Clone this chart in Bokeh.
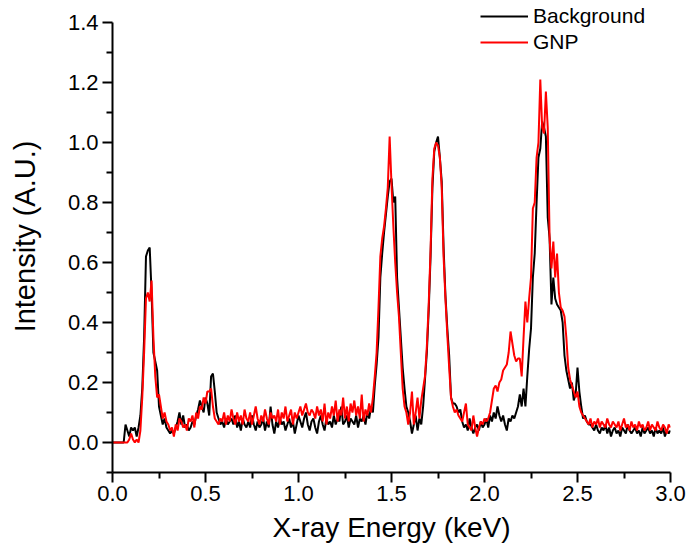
from bokeh.plotting import figure
from bokeh.models import (Range1d, FixedTicker, PrintfTickFormatter, Legend, LegendItem)
from bokeh.embed import file_html
from bokeh.resources import INLINE

# X-ray energy (keV), 0.00 .. 3.00 in 0.01 steps
energy = [round(i * 0.01, 2) for i in range(301)]

background = [
    0, 0, 0, 0, 0, 0, 0, 0.06, 0.04, 0.02,
    0.05, 0.04, 0.05, 0.02, 0.05, 0.09, 0.18, 0.35, 0.62, 0.64,
    0.65, 0.50, 0.30, 0.27, 0.24, 0.12, 0.09, 0.06, 0.08, 0.05,
    0.04, 0.03, 0.04, 0.03, 0.05, 0.07, 0.10, 0.06, 0.09, 0.05,
    0.06, 0.04, 0.05, 0.07, 0.06, 0.09, 0.11, 0.14, 0.12, 0.10,
    0.15, 0.13, 0.09, 0.22, 0.23, 0.17, 0.10, 0.08, 0.06, 0.07,
    0.05, 0.08, 0.06, 0.07, 0.08, 0.06, 0.09, 0.05, 0.07, 0.04,
    0.08, 0.06, 0.05, 0.07, 0.05, 0.09, 0.06, 0.04, 0.07, 0.05,
    0.06, 0.08, 0.04, 0.07, 0.05, 0.12, 0.06, 0.03, 0.07, 0.05,
    0.08, 0.06, 0.07, 0.04, 0.06, 0.08, 0.05, 0.07, 0.03, 0.06,
    0.09, 0.07, 0.05, 0.08, 0.10, 0.06, 0.04, 0.07, 0.08, 0.05,
    0.03, 0.07, 0.09, 0.06, 0.04, 0.08, 0.06, 0.07, 0.05, 0.09,
    0.06, 0.08, 0.07, 0.12, 0.06, 0.07, 0.09, 0.05, 0.08, 0.07,
    0.06, 0.09, 0.05, 0.08, 0.07, 0.09, 0.06, 0.10, 0.08, 0.12,
    0.10, 0.19, 0.26, 0.35, 0.55, 0.63, 0.70, 0.76, 0.82, 0.87,
    0.88, 0.80, 0.82, 0.55, 0.45, 0.35, 0.25, 0.18, 0.12, 0.10,
    0.07, 0.03, 0.06, 0.09, 0.04, 0.08, 0.06, 0.12, 0.21, 0.30,
    0.44, 0.62, 0.85, 0.97, 1.00, 1.02, 0.95, 0.87, 0.65, 0.49,
    0.38, 0.29, 0.15, 0.13, 0.13, 0.12, 0.10, 0.11, 0.07, 0.05,
    0.06, 0.04, 0.08, 0.05, 0.03, 0.05, 0.06, 0.04, 0.07, 0.05,
    0.06, 0.08, 0.05, 0.09, 0.07, 0.10, 0.08, 0.12, 0.09, 0.07,
    0.09, 0.06, 0.04, 0.08, 0.07, 0.09, 0.08, 0.10, 0.12, 0.16,
    0.12, 0.18, 0.12, 0.22, 0.31, 0.38, 0.55, 0.63, 0.80, 0.95,
    0.98, 1.07, 1.05, 1.02, 0.75, 0.68, 0.46, 0.55, 0.48, 0.46,
    0.45, 0.44, 0.40, 0.29, 0.24, 0.21, 0.18, 0.20, 0.14, 0.16,
    0.25, 0.17, 0.12, 0.08, 0.09, 0.07, 0.06, 0.06, 0.05, 0.04,
    0.06, 0.04, 0.03, 0.05, 0.04, 0.06, 0.03, 0.05, 0.02, 0.04,
    0.05, 0.03, 0.04, 0.02, 0.05, 0.04, 0.03, 0.06, 0.04, 0.03,
    0.04, 0.05, 0.03, 0.04, 0.02, 0.05, 0.03, 0.04, 0.05, 0.03,
    0.04, 0.02, 0.05, 0.03, 0.04, 0.03, 0.05, 0.02, 0.04, 0.03,
    0.04,
]

gnp = [
    0, 0, 0, 0, 0, 0, 0, 0, 0, 0.01,
    0.03, 0.01, 0.00, 0.01, 0.00, 0.04, 0.15, 0.30, 0.48, 0.50,
    0.47, 0.54, 0.35, 0.22, 0.15, 0.16, 0.12, 0.08, 0.10, 0.07,
    0.06, 0.04, 0.05, 0.02, 0.06, 0.04, 0.08, 0.07, 0.05, 0.06,
    0.04, 0.08, 0.07, 0.09, 0.05, 0.10, 0.08, 0.12, 0.11, 0.15,
    0.13, 0.17, 0.17, 0.18, 0.12, 0.08, 0.07, 0.06, 0.08, 0.07,
    0.10, 0.06, 0.09, 0.07, 0.11, 0.08, 0.06, 0.10, 0.07, 0.09,
    0.06, 0.11, 0.08, 0.07, 0.10, 0.06, 0.09, 0.12, 0.08, 0.06,
    0.09, 0.07, 0.11, 0.08, 0.06, 0.10, 0.08, 0.09, 0.07, 0.11,
    0.06, 0.10, 0.08, 0.12, 0.07, 0.09, 0.11, 0.06, 0.10, 0.08,
    0.10, 0.12, 0.09, 0.11, 0.13, 0.10, 0.09, 0.11, 0.10, 0.08,
    0.12, 0.09, 0.11, 0.07, 0.13, 0.06, 0.10, 0.08, 0.12, 0.09,
    0.14, 0.07, 0.11, 0.09, 0.15, 0.08, 0.12, 0.07, 0.13, 0.10,
    0.14, 0.09, 0.12, 0.08, 0.16, 0.07, 0.11, 0.09, 0.13, 0.10,
    0.15, 0.22, 0.30, 0.45, 0.62, 0.68, 0.72, 0.78, 0.85, 1.02,
    0.86, 0.72, 0.60, 0.50, 0.42, 0.30, 0.18, 0.12, 0.10, 0.06,
    0.10, 0.17, 0.06, 0.10, 0.15, 0.08, 0.14, 0.18, 0.22, 0.32,
    0.46, 0.64, 0.88, 0.98, 1.00, 0.99, 0.95, 0.85, 0.62, 0.48,
    0.36, 0.25, 0.15, 0.12, 0.10, 0.11, 0.09, 0.08, 0.07, 0.10,
    0.13, 0.06, 0.05, 0.04, 0.09, 0.05, 0.02, 0.05, 0.07, 0.06,
    0.08, 0.07, 0.08, 0.10, 0.14, 0.18, 0.19, 0.17, 0.20, 0.21,
    0.24, 0.25, 0.26, 0.30, 0.37, 0.33, 0.29, 0.27, 0.28, 0.28,
    0.22, 0.35, 0.47, 0.40, 0.48, 0.55, 0.78, 0.80, 0.95, 1.00,
    1.21, 1.05, 1.03, 1.17, 1.05, 0.68, 0.58, 0.67, 0.55, 0.63,
    0.50, 0.45, 0.44, 0.42, 0.35, 0.25, 0.21, 0.19, 0.17, 0.15,
    0.17, 0.12, 0.10, 0.09, 0.08, 0.07, 0.06, 0.08, 0.05, 0.07,
    0.06, 0.08, 0.05, 0.07, 0.06, 0.05, 0.08, 0.06, 0.05, 0.07,
    0.06, 0.05, 0.07, 0.04, 0.06, 0.08, 0.05, 0.06, 0.04, 0.07,
    0.05, 0.06, 0.04, 0.07, 0.05, 0.06, 0.04, 0.05, 0.07, 0.04,
    0.06, 0.05, 0.04, 0.07, 0.05, 0.04, 0.06, 0.05, 0.03, 0.06,
    0.05,
]

x_major = [0.0, 0.5, 1.0, 1.5, 2.0, 2.5, 3.0]
x_minor = [0.25, 0.75, 1.25, 1.75, 2.25, 2.75]
y_major = [0.0, 0.2, 0.4, 0.6, 0.8, 1.0, 1.2, 1.4]
y_minor = [-0.1, 0.1, 0.3, 0.5, 0.7, 0.9, 1.1, 1.3]

FONT = "Liberation Sans"

# frame spans the full canvas height above the x axis; the y axis line is
# bounded to -0.1 .. 1.4 so the space above 1.4 holds the legend
p = figure(width=686, height=552, output_backend="svg", toolbar_location=None,
           x_range=Range1d(0, 3.0), y_range=Range1d(-0.1, 1.4 + 22 / 300),
           min_border_left=112, min_border_right=16, min_border_top=0,
           min_border_bottom=80)
p.outline_line_color = None
p.grid.visible = False

r_bg = p.line(energy, background, line_color="black", line_width=2)
r_gnp = p.line(energy, gnp, line_color="#ff0000", line_width=2)

for ax, maj, mnr in ((p.xaxis[0], x_major, x_minor), (p.yaxis[0], y_major, y_minor)):
    ax.ticker = FixedTicker(ticks=maj, minor_ticks=mnr)
    ax.formatter = PrintfTickFormatter(format="%.1f")
    ax.axis_line_width = 2
    ax.major_tick_line_width = 2
    ax.minor_tick_line_width = 2
    ax.major_tick_out = 10
    ax.major_tick_in = 0
    ax.minor_tick_out = 6
    ax.minor_tick_in = 0
    ax.major_label_text_font = FONT
    ax.major_label_text_font_size = "22px"
    ax.major_label_text_color = "black"
    ax.axis_label_text_font = FONT
    ax.axis_label_text_font_style = "normal"
    ax.axis_label_text_color = "black"

p.yaxis[0].bounds = (-0.1, 1.4)

p.xaxis[0].axis_label = "X-ray Energy (keV)"
p.xaxis[0].axis_label_text_font_size = "28px"
p.xaxis[0].major_label_standoff = 3
p.xaxis[0].axis_label_standoff = 8
p.yaxis[0].axis_label = "Intensity (A.U.)"
p.yaxis[0].axis_label_text_font_size = "29px"
p.yaxis[0].major_label_standoff = 4
p.yaxis[0].axis_label_standoff = 24

legend = Legend(items=[LegendItem(label="Background", renderers=[r_bg]),
                       LegendItem(label="GNP", renderers=[r_gnp])],
                location=(368, 418), orientation="vertical")
legend.border_line_color = None
legend.background_fill_alpha = 0
legend.padding = 0
legend.margin = 0
legend.spacing = 2
legend.glyph_width = 48
legend.glyph_height = 22
legend.label_height = 22
legend.label_standoff = 5
legend.label_text_font = FONT
legend.label_text_font_size = "21px"
legend.label_text_color = "black"
p.add_layout(legend, "center")

open("out.html", "w").write(file_html(p, INLINE))
